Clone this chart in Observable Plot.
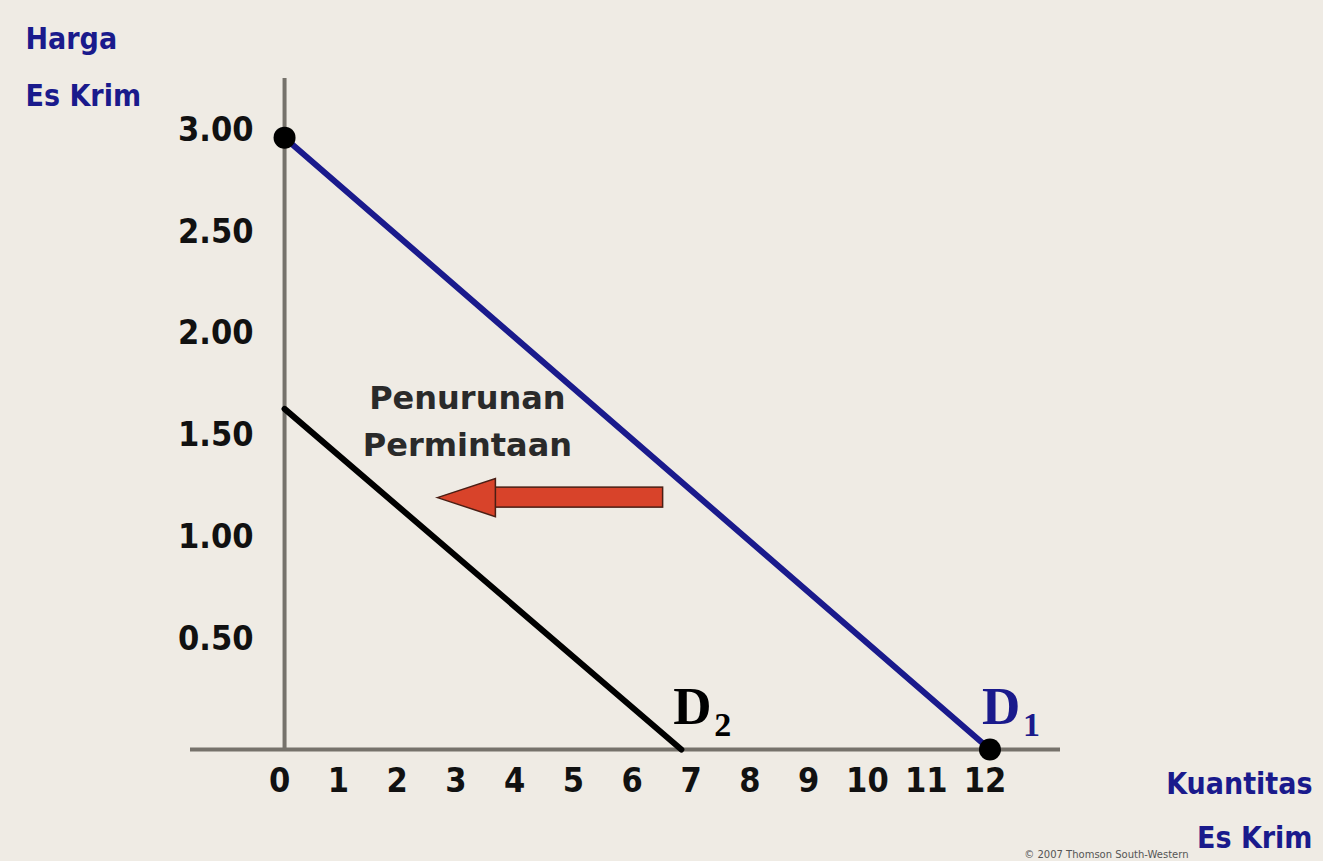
<!DOCTYPE html>
<html>
<head>
<meta charset="utf-8">
<script src="https://cdn.jsdelivr.net/npm/d3@7"></script>
<script src="https://cdn.jsdelivr.net/npm/@observablehq/plot@0.6"></script>
<style>
  html, body { margin: 0; padding: 0; background: #efebe4; }
  #chart svg { display: block; }
</style>
</head>
<body>
<div id="chart"></div>
<script>
// ---- data ----
const qTicks = [0, 1, 2, 3, 4, 5, 6, 7, 8, 9, 10, 11, 12];
const pTicks = [0.5, 1, 1.5, 2, 2.5, 3];
const pTickLabels = ["0.50", "1.00", "1.50", "2.00", "2.50", "3.00"];

const d1Q = [0, 12];
const d1P = [3, 0];
const d2Q = [0, 6.75];
const d2P = [1.67, 0];

const pointQ = [0, 12];
const pointP = [3, 0];

const curveLabel = ["D", "D"];
const curveSub = ["1", "2"];
const curveEndQ = [12, 6.75];
const curveColor = ["#1a1a8c", "#000000"];

const arrowFromQ = 6.44;
const arrowToQ = 2.6;
const arrowP = 1.235;

const noteText = "Penurunan\nPermintaan";
const noteQ = 3.11;
const noteP = 1.44;

const yTitle = "Harga\nEs Krim";
const xTitle = "Kuantitas\nEs Krim";
const credit = "© 2007 Thomson South-Western";

// ---- tables built from the arrays ----
const d1 = d1Q.map((q, i) => ({q, p: d1P[i]}));
const d2 = d2Q.map((q, i) => ({q, p: d2P[i]}));
const points = pointQ.map((q, i) => ({q, p: pointP[i]}));
const labels = curveLabel.map((t, i) => ({t, s: curveSub[i], q: curveEndQ[i], c: curveColor[i]}));
const arrow = [{from: arrowFromQ, to: arrowToQ, p: arrowP}];

const arrowHead = {
  draw(ctx) {
    ctx.moveTo(0, 0);
    ctx.lineTo(58, -19);
    ctx.lineTo(58, 19);
    ctx.closePath();
  }
};

const tickFont = "'DejaVu Sans Condensed', 'DejaVu Sans', sans-serif";
const blue = "#1a1a8c";
const axisGray = "#76726b";

const chart = Plot.plot({
  width: 1323,
  height: 861,
  marginLeft: 190,
  marginRight: 263,
  marginTop: 78,
  marginBottom: 112,
  style: {background: "#efebe4"},
  x: {domain: [-1.6, 13.2], axis: null},
  y: {domain: [0, 3.29], axis: null},
  marks: [
    // axes
    Plot.ruleY([0], {stroke: axisGray, strokeWidth: 4}),
    Plot.ruleX([0], {stroke: axisGray, strokeWidth: 4}),
    // tick labels
    Plot.text(pTicks, {
      x: 0, y: d => d, text: (d, i) => pTickLabels[i],
      textAnchor: "end", dx: -31, dy: -8,
      fontSize: 34, fontWeight: "bold", fontFamily: tickFont, fill: "#111"
    }),
    Plot.text(qTicks, {
      x: d => d, y: 0, text: d => String(d),
      dx: -5, dy: 32,
      fontSize: 34, fontWeight: "bold", fontFamily: tickFont, fill: "#111"
    }),
    // demand curves
    Plot.line(d2, {x: "q", y: "p", stroke: "#000", strokeWidth: 6}),
    Plot.line(d1, {x: "q", y: "p", stroke: blue, strokeWidth: 6}),
    Plot.dot(points, {x: "q", y: "p", r: 11, fill: "#000"}),
    // arrow
    Plot.rect(arrow, {
      x1: "to", x2: "from", y1: "p", y2: "p",
      insetLeft: 50, insetTop: -10, insetBottom: -10,
      fill: "#d8432a", stroke: "#4a1e14", strokeWidth: 1.5
    }),
    Plot.dot(arrow, {
      x: "to", y: "p", r: 5, symbol: arrowHead,
      fill: "#d8432a", stroke: "#4a1e14", strokeWidth: 1.5
    }),
    // annotation
    Plot.text([noteText], {
      x: noteQ, y: noteP, text: d => d,
      lineAnchor: "bottom", lineHeight: 1.47,
      fontSize: 32, fontWeight: "bold", fontFamily: "'DejaVu Sans', sans-serif",
      fill: "#2a2a2a"
    }),
    // curve labels
    Plot.text(labels, {
      x: "q", y: 0, text: "t", fill: "c",
      textAnchor: "start", lineAnchor: "bottom", dx: -8, dy: -26,
      fontSize: 53, fontWeight: "bold", fontFamily: "'Liberation Serif', serif"
    }),
    Plot.text(labels, {
      x: "q", y: 0, text: "s", fill: "c",
      textAnchor: "start", lineAnchor: "bottom", dx: 33, dy: -14,
      fontSize: 34, fontWeight: "bold", fontFamily: "'Liberation Serif', serif"
    }),
    // axis titles
    Plot.text([yTitle], {
      frameAnchor: "top-left", text: d => d,
      textAnchor: "start", lineAnchor: "bottom", lineHeight: 1.9,
      dx: -165, dy: 27,
      fontSize: 30, fontWeight: "bold", fontFamily: tickFont, fill: blue
    }),
    Plot.text([xTitle], {
      frameAnchor: "bottom-right", text: d => d,
      textAnchor: "end", lineAnchor: "bottom", lineHeight: 1.8,
      dx: 252, dy: 98,
      fontSize: 30, fontWeight: "bold", fontFamily: tickFont, fill: blue
    }),
    Plot.text([credit], {
      frameAnchor: "bottom-right", text: d => d,
      textAnchor: "end", lineAnchor: "bottom",
      dx: 128, dy: 108,
      fontSize: 10, fontFamily: "'DejaVu Sans', sans-serif", fill: "#555"
    })
  ]
});
chart.setAttribute("color", "#111");
document.getElementById("chart").appendChild(chart);
</script>
</body>
</html>
